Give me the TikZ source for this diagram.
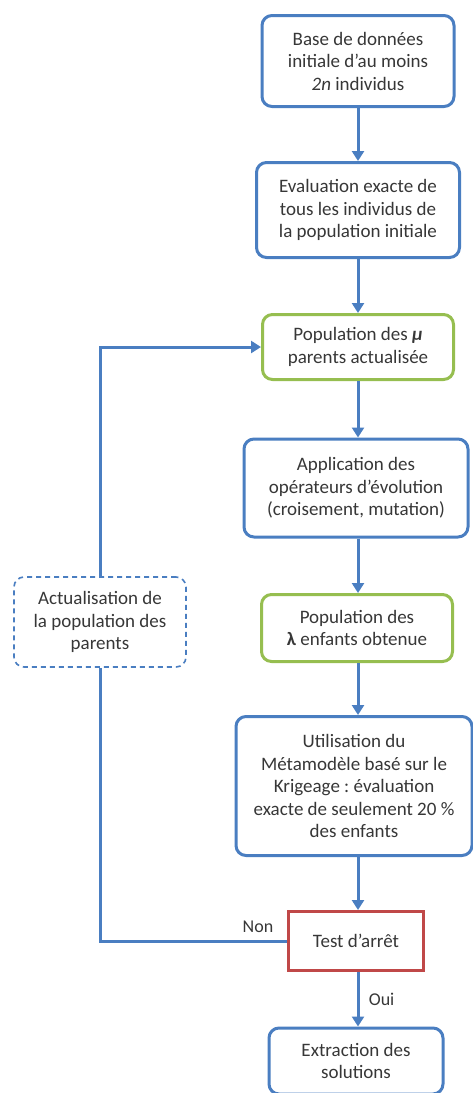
\documentclass[tikz,border=0pt]{standalone}
\usepackage{fontspec}
\setmainfont{Carlito}
\frenchspacing
\usetikzlibrary{arrows.meta}
\definecolor{bblue}{RGB}{74,126,193}
\definecolor{agreen}{RGB}{150,190,80}
\definecolor{ared}{RGB}{192,72,72}
\definecolor{txt}{RGB}{55,55,55}
\tikzset{
  box/.style={draw=bblue, line width=3pt, rounded corners=10pt, fill=white, align=center, text=txt, font=\fontsize{19}{22.5}\selectfont, inner sep=2pt},
  gbox/.style={box, draw=agreen},
  rbox/.style={box, draw=ared, rounded corners=0pt},
  dbox/.style={box, line width=1.6pt, dash pattern=on 5pt off 4pt},
  arr/.style={draw=bblue, line width=3pt, -{Triangle[length=10pt,width=12pt]}},
  lab/.style={text=txt, font=\fontsize{18}{20}\selectfont}
}
\begin{document}
\begin{tikzpicture}[x=1pt,y=-1pt]
\useasboundingbox (0,0) rectangle (473,1093);
\node[box, minimum width=192pt, minimum height=91pt] (b1) at (358,61) {Base de données\\initiale d’au moins\\\textit{2n} individus};
\node[box, minimum width=203pt, minimum height=95pt] (b2) at (358,210) {Evaluation exacte de\\tous les individus de\\la population initiale};
\node[gbox, minimum width=191pt, minimum height=65pt] (b3) at (358,347) {Population des \textbf{\textit{μ}}\\parents actualisée};
\node[box, minimum width=224pt, minimum height=98pt] (b4) at (356,488) {Application des\\opérateurs d’évolution\\(croisement, mutation)};
\node[gbox, minimum width=191pt, minimum height=67pt] (b5) at (357,628) {Population des\\\textbf{λ} enfants obtenue};
\node[box, minimum width=236pt, minimum height=139pt] (b6) at (354,786) {Utilisation du\\Métamodèle basé sur le\\Krigeage : évaluation\\exacte de seulement 20 \%\\des enfants};
\node[rbox, minimum width=135pt, minimum height=59pt] (b7) at (356,941) {Test d’arrêt};
\node[box, minimum width=174pt, minimum height=66pt] (b8) at (356,1061) {Extraction des\\solutions};
\node[dbox, minimum width=172pt, minimum height=90pt] (d) at (100,622) {Actualisation de\\la population des\\parents};
\coordinate (c1) at (100,941);
\coordinate (c2) at (100,347);
\draw[arr] (b1.south) -- (b1.south |- b2.north);
\draw[arr] (b2.south) -- (b2.south |- b3.north);
\draw[arr] (b3.south) -- (b3.south |- b4.north);
\draw[arr] (b3.south |- b4.south) -- (b3.south |- b5.north);
\draw[arr] (b3.south |- b5.south) -- (b3.south |- b6.north);
\draw[arr] (b3.south |- b6.south) -- (b3.south |- b7.north);
\draw[arr] (b3.south |- b7.south) -- node[lab, right=6pt] {Oui} (b3.south |- b8.north);
\draw[draw=bblue, line width=3pt] (b7.west) -- (c1) -- (d.south);
\draw[arr] (d.north) -- (c2) -- (b3.west);
\node[lab] (non) at (258,927) {Non};
\end{tikzpicture}
\end{document}
